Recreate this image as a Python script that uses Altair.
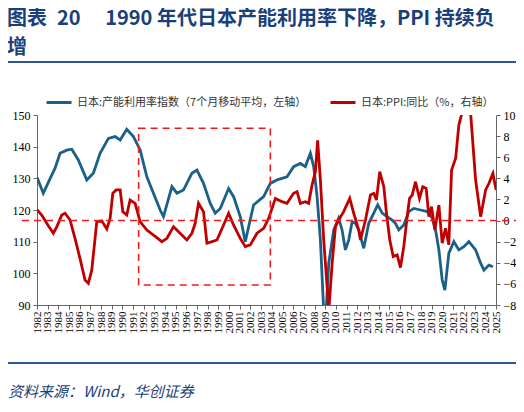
import altair as alt
import pandas as pd

# ---------------- data ----------------
blue_year = [1982.0, 1982.59, 1983.38, 1983.69, 1984.16, 1984.79, 1985.26, 1985.87, 1986.66, 1987.28,
             1987.91, 1988.69, 1989.32, 1989.79, 1990.41, 1991.03, 1991.66, 1992.29, 1992.91, 1993.54,
             1993.85, 1994.64, 1995.11, 1995.72, 1996.51, 1996.98, 1997.60, 1998.23, 1998.70, 1999.17,
             1999.95, 2000.42, 2001.04, 2001.51, 2002.29, 2003.23, 2003.86, 2004.49, 2005.42, 2006.04,
             2006.67, 2007.14, 2007.61, 2007.92, 2008.24, 2008.55, 2008.86, 2009.02, 2009.33, 2009.80,
             2010.26, 2010.58, 2010.89, 2011.20, 2011.52, 2011.83, 2012.14, 2012.61, 2013.08, 2013.55,
             2013.92, 2014.34, 2014.80, 2015.27, 2015.58, 2015.89, 2016.36, 2016.83, 2017.30, 2017.93,
             2018.56, 2019.03, 2019.34, 2019.65, 2019.96, 2020.21, 2020.58, 2021.05, 2021.52, 2021.99,
             2022.46, 2023.09, 2023.56, 2023.87, 2024.34, 2024.71]
blue_val = [130.3, 125.3, 131.0, 133.2, 137.9, 138.9, 139.2, 135.8, 129.5, 131.6,
            137.9, 142.6, 143.2, 142.1, 145.5, 143.2, 139.0, 130.5, 125.3, 120.0,
            117.9, 127.4, 125.3, 126.3, 131.6, 132.6, 128.4, 122.1, 119.0, 120.5,
            126.8, 124.2, 117.9, 110.0, 121.6, 124.2, 128.4, 129.5, 130.5, 133.7,
            134.7, 133.7, 137.9, 133.7, 124.2, 110.5, 88.0, 84.0, 103.2, 113.7,
            117.4, 113.7, 107.4, 110.5, 116.3, 115.8, 113.7, 107.9, 115.8, 119.0,
            121.6, 119.0, 117.9, 116.8, 115.8, 113.7, 115.3, 119.5, 120.5, 120.0,
            119.5, 117.4, 113.7, 107.4, 97.9, 94.7, 106.3, 110.0, 107.4, 108.4,
            110.0, 107.4, 103.2, 101.0, 102.6, 102.1]

red_year = [1982.03, 1982.44, 1983.06, 1983.53, 1983.85, 1984.32, 1984.63, 1985.10, 1985.56, 1986.03,
            1986.50, 1986.81, 1987.13, 1987.44, 1987.60, 1988.07, 1988.54, 1988.85, 1989.10, 1989.41,
            1989.79, 1990.04, 1990.41, 1990.72, 1991.19, 1991.66, 1992.29, 1993.07, 1993.70, 1994.17,
            1994.79, 1995.41, 1996.04, 1996.51, 1996.82, 1997.13, 1997.60, 1997.92, 1998.39, 1998.86,
            1999.48, 1999.95, 2000.41, 2001.04, 2001.51, 2001.98, 2002.61, 2003.23, 2003.70, 2004.33,
            2004.95, 2005.42, 2006.04, 2006.36, 2006.67, 2007.14, 2007.45, 2007.77, 2008.08, 2008.29,
            2008.55, 2008.86, 2009.18, 2009.33, 2009.65, 2009.96, 2010.26, 2010.73, 2011.30, 2011.67,
            2012.14, 2012.30, 2012.77, 2013.24, 2013.55, 2013.80, 2014.11, 2014.49, 2014.74, 2015.05,
            2015.37, 2015.74, 2016.05, 2016.36, 2016.68, 2016.90, 2017.15, 2017.46, 2017.83, 2018.14,
            2018.46, 2018.71, 2018.96, 2019.27, 2019.65, 2019.96, 2020.27, 2020.58, 2020.84, 2021.22,
            2021.52, 2021.84, 2022.24, 2022.62, 2023.09, 2023.56, 2024.03, 2024.34, 2024.71, 2025.01]
red_val = [1.0, 0.53, -0.5, -1.2, -0.6, 0.53, 0.69, 0.05, -1.68, -3.6,
           -5.63, -5.95, -4.7, -1.68, -0.1, -0.05, -0.8, 0.21, 2.58, 2.9,
           2.9, 0.84, 0.53, 1.95, 1.63, -0.1, -0.9, -1.5, -2.0, -1.68,
           -0.58, -1.2, -1.84, -1.2, -0.26, 1.63, 0.84, -2.15, -2.0, -1.84,
           -0.42, 0.69, -0.42, -1.68, -2.47, -2.3, -1.2, -0.74, 0.21, 2.1,
           1.79, 1.63, 2.58, 2.74, 1.63, 1.79, 1.63, 3.37, 4.63, 7.6,
           3.84, -1.84, -6.26, -8.6, -4.05, -0.58, 0.05, 0.84, 2.1, 0.69,
           -0.9, -1.84, 0.05, 2.42, 2.58, 1.95, 4.63, 3.21, 0.69, -1.84,
           -3.42, -3.26, -4.45, -2.47, 0.37, 2.1, 2.42, 3.68, 2.1, 3.21,
           3.05, 0.37, 1.32, -0.9, 1.47, -2.15, -0.74, -2.3, 4.79, 5.9,
           9.05, 10.3, 10.4, 10.2, 3.84, 0.37, 2.9, 3.53, 4.47, 2.9]

year_ticks = list(range(1982, 2026))
left_ticks = [90, 100, 110, 120, 130, 140, 150]
right_ticks = [-8, -6, -4, -2, 0, 2, 4, 6, 8, 10]
box_years = [1991.52, 2003.86]
box_right_vals = [8.74, -6.1]
zero_line = [0]

BLUE_NAME = "日本:产能利用率指数（7个月移动平均，左轴）"
RED_NAME = "日本:PPI:同比（%，右轴）"
TITLE_1 = "图表\u200220\u3000\u00a01990 年代日本产能利用率下降，PPI 持续负"
TITLE_2 = "增"
SOURCE = "资料来源：Wind，华创证券"

BLUE = "#1b6088"
RED = "#c00000"
DASH_RED = "#f01c1c"
NAVY = "#1a3f7a"
AXIS_GREY = "#666666"

blue_df = pd.DataFrame({"year": blue_year, "value": blue_val, "series": BLUE_NAME})
red_df = pd.DataFrame({"year": red_year, "value": red_val, "series": RED_NAME})
box_df = pd.DataFrame({"x0": [box_years[0]], "x1": [box_years[1]],
                       "y0": [box_right_vals[0]], "y1": [box_right_vals[1]]})
zero_df = pd.DataFrame({"v": zero_line})

x_scale = alt.Scale(domain=[1982, 2025], nice=False, zero=False)
x_axis = alt.Axis(values=year_ticks, format="d", labelAngle=-90, labelFont="Liberation Serif",
                  labelFontSize=11, labelColor="black", tickSize=4, domainColor=AXIS_GREY,
                  tickColor=AXIS_GREY, grid=False, title=None, labelPadding=2,
                  labelOverlap=False, labelFlush=False)
left_scale = alt.Scale(domain=[90, 150], nice=False, zero=False)
right_scale = alt.Scale(domain=[-8, 10], nice=False, zero=False)
left_axis = alt.Axis(values=left_ticks, orient="left", title=None, grid=False,
                     labelFont="Liberation Serif", labelFontSize=12, labelColor="black",
                     tickSize=4, labelPadding=3, domainColor=AXIS_GREY, tickColor=AXIS_GREY)
right_axis = alt.Axis(values=right_ticks, orient="right", title=None, grid=False,
                      labelFont="Liberation Serif", labelFontSize=12, labelColor="black",
                      tickSize=4, labelPadding=3, domainColor=AXIS_GREY, tickColor=AXIS_GREY)

color = alt.Color(
    "series:N",
    scale=alt.Scale(domain=[BLUE_NAME, RED_NAME], range=[BLUE, RED]),
    legend=alt.Legend(orient="none", legendX=8, legendY=-26.5, direction="horizontal",
                      title=None, symbolType="stroke", symbolSize=625, symbolStrokeWidth=3,
                      labelFont="Noto Sans CJK SC", labelFontSize=11, labelColor="#333333",
                      labelLimit=400, columnPadding=17, labelOffset=4, padding=0),
)

blue_line = alt.Chart(blue_df).mark_line(strokeWidth=2.8, clip=True).encode(
    x=alt.X("year:Q", scale=x_scale, axis=x_axis),
    y=alt.Y("value:Q", scale=left_scale, axis=left_axis),
    color=color,
)

red_line = alt.Chart(red_df).mark_line(strokeWidth=2.8, clip=True).encode(
    x=alt.X("year:Q", scale=x_scale, axis=x_axis),
    y=alt.Y("value:Q", scale=right_scale, axis=right_axis),
    color=color,
)

box = alt.Chart(box_df).mark_rect(filled=False, stroke=DASH_RED, strokeWidth=1.6,
                                  strokeDash=[7, 5]).encode(
    x=alt.X("x0:Q", scale=x_scale, axis=x_axis), x2="x1",
    y=alt.Y("y0:Q", scale=right_scale, axis=right_axis), y2="y1",
)

zero_rule = alt.Chart(zero_df).mark_rule(color=DASH_RED, strokeWidth=1.6, strokeDash=[7, 5]).encode(
    y=alt.Y("v:Q", scale=right_scale, axis=right_axis),
    x=alt.value(-15), x2=alt.value(480),
)

left_group = alt.layer(blue_line)
right_group = alt.layer(red_line, box, zero_rule)

one = pd.DataFrame({"a": [0]})
title1 = alt.Chart(pd.DataFrame({"t": [TITLE_1]})).mark_text(
    font="Noto Sans CJK SC", fontSize=20, fontWeight="bold", color=NAVY, align="left",
    baseline="top").encode(text="t:N", x=alt.value(-30), y=alt.value(-106))
title2 = alt.Chart(pd.DataFrame({"t": [TITLE_2]})).mark_text(
    font="Noto Sans CJK SC", fontSize=20, fontWeight="bold", color=NAVY, align="left",
    baseline="top").encode(text="t:N", x=alt.value(-30), y=alt.value(-77))
top_rule = alt.Chart(one).mark_rule(color="#2f5596", strokeWidth=2).encode(
    x=alt.value(-29), x2=alt.value(479), y=alt.value(-53))
bottom_rule = alt.Chart(one).mark_rule(color="#2f5596", strokeWidth=2).encode(
    x=alt.value(-29), x2=alt.value(479), y=alt.value(248))
source = alt.Chart(pd.DataFrame({"t": [SOURCE]})).mark_text(
    font="Noto Sans CJK SC", fontSize=15, fontStyle="italic", color=NAVY, align="left",
    baseline="middle").encode(text="t:N", x=alt.value(-29), y=alt.value(277))

chart = alt.layer(left_group, right_group, title1, title2, top_rule, bottom_rule, source).resolve_scale(
    y="independent"
).properties(
    width=459, height=190,
    autosize=alt.AutoSizeParams(type="none"),
    padding={"left": 29, "top": 107, "right": 20, "bottom": 96},
).configure_view(stroke=None)

chart.save("out.html", embed_options={"renderer": "svg", "actions": False})
